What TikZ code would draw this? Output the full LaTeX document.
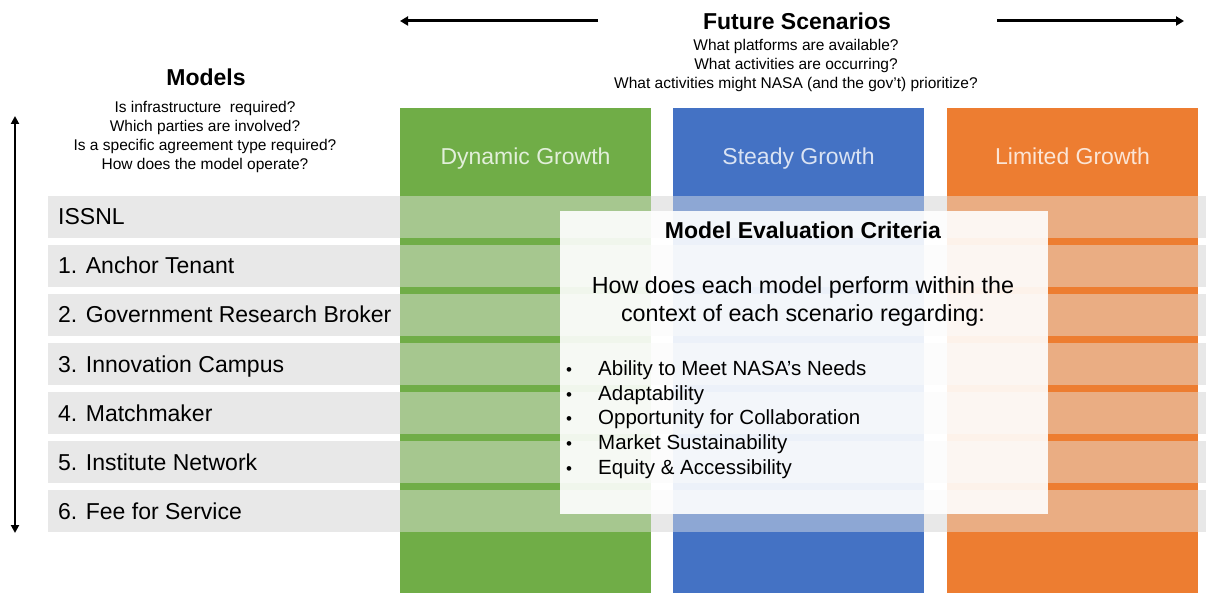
\documentclass[tikz,border=0pt]{standalone}
\usepackage{fontspec}
\setmainfont{Liberation Sans}
\usetikzlibrary{arrows.meta}
\definecolor{cgreen}{HTML}{70AD47}
\definecolor{cblue}{HTML}{4472C4}
\definecolor{corange}{HTML}{ED7D31}
\definecolor{rowgray}{HTML}{E8E8E8}
\newcommand{\fsz}[2]{\fontsize{#1}{#2}\selectfont}
\tikzset{
  colbox/.style={draw=none, minimum width=251pt, minimum height=485pt, inner sep=0pt},
  rowbox/.style={draw=none, fill=rowgray, minimum width=1158pt, minimum height=42pt, inner sep=0pt},
  rowveil/.style={rowbox, fill opacity=0.45},
  rowlabel/.style={anchor=base west, inner sep=0pt, font=\fsz{23}{27}},
  colhead/.style={anchor=base, inner sep=0pt, font=\fsz{23}{27}},
  question/.style={align=center, inner sep=0pt, font=\fsz{15.5}{19}},
  bigtitle/.style={inner sep=0pt, font=\fsz{23}{27}\bfseries},
  arrowline/.style={line width=3pt, -{Triangle[length=8pt,width=9pt]}},
  bul/.style={},
}
\newcommand{\bitem}{\makebox[32pt][l]{\fsz{17}{24.75}\textbullet}}
\begin{document}
\begin{tikzpicture}[x=1pt,y=-1pt]
\useasboundingbox (0,0) rectangle (1206,593);

% model rows (solid background)
\foreach \i in {0,...,6} {
  \node[rowbox] (r\i) at (627,217+49*\i) {};
}

% scenario columns
\node[colbox, fill=cgreen] (colG) at (525.5,350.5) {};
\node[colbox, fill=cblue] (colB) at (798.5,350.5) {};
\node[colbox, fill=corange] (colO) at (1072.5,350.5) {};

% veil of the rows over the columns
\foreach \i in {0,...,6} {
  \node[rowveil] (v\i) at (627,217+49*\i) {};
}

% column headers
\node[colhead, text=white!80!cgreen] (hG) at (525.5,165) {Dynamic Growth};
\node[colhead, text=white!80!cblue] (hB) at (798.5,165) {Steady Growth};
\node[colhead, text=white!80!corange] (hO) at (1072.5,165) {Limited Growth};

% row labels
\node[rowlabel] (l0) at (58,225) {ISSNL};
\node[rowlabel] (l1) at (58,274) {1. Anchor Tenant};
\node[rowlabel] (l2) at (58,323) {2. Government Research Broker};
\node[rowlabel] (l3) at (58,372) {3. Innovation Campus};
\node[rowlabel] (l4) at (58,421) {4. Matchmaker};
\node[rowlabel] (l5) at (58,470) {5. Institute Network};
\node[rowlabel] (l6) at (58,519) {6. Fee for Service};

% evaluation box
\node[draw=none, fill=white, fill opacity=0.9, minimum width=488pt, minimum height=303pt, inner sep=0pt] (eval) at (804,362.5) {};
\node[inner sep=0pt, font=\fsz{23}{27}\bfseries] (evtitle) at (803,230) {Model Evaluation Criteria};
\node[align=center, inner sep=0pt, font=\fsz{23.3}{28}] (evq) at (803,301) {How does each model perform within the\\context of each scenario regarding:};
\node[anchor=west, align=left, inner sep=0pt, font=\fsz{20.5}{24.75}] (evlist) at (566,419.5)
  {\bitem Ability to Meet NASA’s Needs\\
   \bitem Adaptability\\
   \bitem Opportunity for Collaboration\\
   \bitem Market Sustainability\\
   \bitem Equity \& Accessibility};

% Models heading
\node[bigtitle] (mtitle) at (206,77) {Models};
\node[question] (mq) at (205,136.5) {Is infrastructure\ \ required?\\Which parties are involved?\\Is a specific agreement type required?\\How does the model operate?};

% Future scenarios heading
\node[bigtitle] (ftitle) at (797,21) {Future Scenarios};
\node[question] (fq) at (796,65) {What platforms are available?\\What activities are occurring?\\What activities might NASA (and the gov’t) prioritize?};

% arrows
\coordinate (la0) at (598,21);
\coordinate (la1) at (400,21);
\coordinate (ra0) at (997,21);
\coordinate (ra1) at (1184,21);
\draw[arrowline] (la0) -- (la1);
\draw[arrowline] (ra0) -- (ra1);
\coordinate (va0) at (15,116);
\coordinate (va1) at (15,533);
\draw[line width=2.2pt, {Triangle[length=8pt,width=8pt]}-{Triangle[length=8pt,width=8pt]}] (va0) -- (va1);
\end{tikzpicture}
\end{document}
